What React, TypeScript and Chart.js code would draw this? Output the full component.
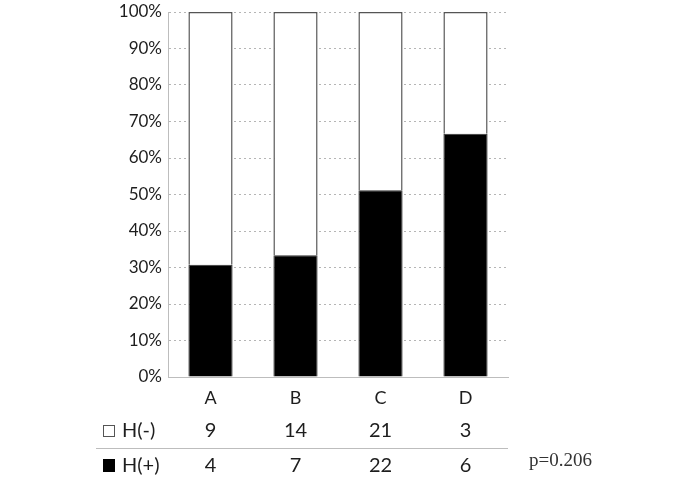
import React, { useEffect, useRef } from "react";
import { Chart, registerables } from "chart.js";

Chart.register(...registerables);

const categories = ["A", "B", "C", "D"];
const hNegCounts = [9, 14, 21, 3];
const hPosCounts = [4, 7, 22, 6];
const yTicks = [0, 10, 20, 30, 40, 50, 60, 70, 80, 90, 100];
const pValueLabel = "p=0.206";
const rowLabels = ["H(-)", "H(+)"];

const totals = categories.map((_, i) => hNegCounts[i] + hPosCounts[i]);
const hPosPct = hPosCounts.map((v, i) => (v / totals[i]) * 100);
const hNegPct = hNegCounts.map((v, i) => (v / totals[i]) * 100);

const FONT = "Lato, 'Open Sans', sans-serif";

const tablePlugin = {
  id: "countTable",
  afterDraw(chart: any) {
    const ctx = chart.ctx as CanvasRenderingContext2D;
    const xs = chart.scales.x;
    ctx.save();
    ctx.strokeStyle = "#bdbdbd";
    ctx.lineWidth = 1;
    ctx.beginPath();
    ctx.moveTo(96, 448.5);
    ctx.lineTo(xs.right, 448.5);
    ctx.stroke();

    ctx.fillStyle = "#ffffff";
    ctx.strokeStyle = "#555";
    ctx.fillRect(103, 425, 12, 12);
    ctx.strokeRect(103.5, 425.5, 11, 11);
    ctx.fillStyle = "#000";
    ctx.fillRect(103, 459, 12, 13);

    ctx.fillStyle = "#1e1e1e";
    ctx.font = `20px ${FONT}`;
    ctx.textBaseline = "middle";
    ctx.textAlign = "left";
    ctx.fillText(rowLabels[0], 122, 431);
    ctx.fillText(rowLabels[1], 122, 465.5);

    ctx.textAlign = "center";
    categories.forEach((_, i) => {
      const x = xs.getPixelForValue(i);
      ctx.fillText(String(hNegCounts[i]), x, 431);
      ctx.fillText(String(hPosCounts[i]), x, 465.5);
    });

    ctx.textAlign = "left";
    ctx.textBaseline = "alphabetic";
    ctx.font = "19px 'Liberation Serif', 'Times New Roman', serif";
    ctx.fillStyle = "#333";
    ctx.fillText(pValueLabel, 529, 466);
    ctx.restore();
  },
};

export default function App() {
  const ref = useRef<HTMLCanvasElement>(null);
  useEffect(() => {
    if (!ref.current) return;
    const chart = new Chart(ref.current, {
      type: "bar",
      data: {
        labels: categories,
        datasets: [
          {
            label: "H(+)",
            data: hPosPct,
            backgroundColor: "#000000",
            borderColor: "#333333",
            borderWidth: 1,
            categoryPercentage: 1,
            barPercentage: 0.52,
          },
          {
            label: "H(-)",
            data: hNegPct,
            backgroundColor: "#ffffff",
            borderColor: "#555555",
            borderWidth: 1.5,
            categoryPercentage: 1,
            barPercentage: 0.52,
          },
        ],
      },
      options: {
        responsive: false,
        animation: false,
        layout: { padding: { left: 0, right: 180, top: 12, bottom: 0 } },
        plugins: { legend: { display: false }, tooltip: { enabled: false } },
        scales: {
          x: {
            stacked: true,
            grid: { display: false, drawTicks: false },
            border: { display: true, color: "#bdbdbd", width: 1 },
            ticks: { font: { family: FONT, size: 18 }, color: "#1e1e1e", padding: 10 },
            afterFit: (s: any) => {
              s.height = 106;
            },
          },
          y: {
            stacked: true,
            min: 0,
            max: 100,
            afterBuildTicks: (s: any) => {
              s.ticks = yTicks.map((v) => ({ value: v }));
            },
            grid: { color: "#b5b5b5", drawTicks: false, lineWidth: 1 },
            border: { display: true, color: "#bdbdbd", width: 1, dash: [2, 3] },
            ticks: {
              font: { family: FONT, size: 17 },
              color: "#1e1e1e",
              padding: 6,
              callback: (v: any) => `${v}%`,
            },
            afterFit: (s: any) => {
              s.width = 168;
              s.paddingTop = 0;
            },
          },
        },
      },
      plugins: [tablePlugin],
    });
    return () => chart.destroy();
  }, []);
  return (
    <div style={{ position: "absolute", left: 0, top: 0, width: 688, height: 483, background: "#fff" }}>
      <canvas ref={ref} width={688} height={483} style={{ display: "block" }} />
    </div>
  );
}
